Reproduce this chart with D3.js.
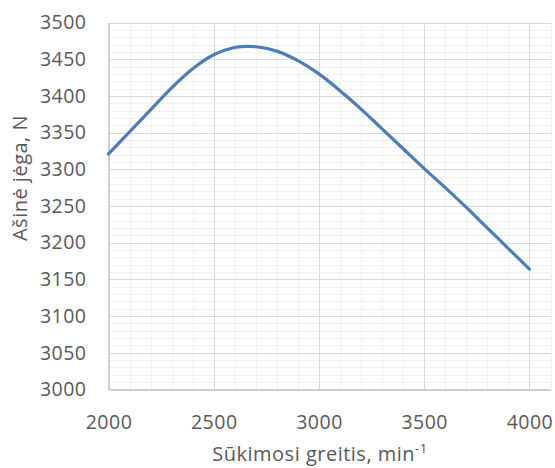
<!DOCTYPE html>
<html>
<head>
<meta charset="utf-8">
<script src="https://cdn.jsdelivr.net/npm/d3@7"></script>
<style>
  html, body { margin: 0; padding: 0; background: #fff; }
  svg { display: block; font-family: "Open Sans", "Noto Sans", sans-serif; }
</style>
</head>
<body>
<svg id="chart" width="555" height="468"></svg>
<script>
// Rotational speed (min^-1) and axial force (N)
const speed = [2000, 2100, 2200, 2300, 2400, 2500, 2600, 2700, 2800, 2900, 3000,
               3100, 3200, 3300, 3400, 3500, 3600, 3700, 3800, 3900, 4000];
const force = [3321, 3351, 3381, 3411, 3437, 3456, 3466, 3467, 3461, 3448, 3430,
               3407, 3382, 3355, 3328, 3301, 3275, 3248, 3220, 3192, 3164];

const xTicks = [2000, 2500, 3000, 3500, 4000];
const yTicks = [3000, 3050, 3100, 3150, 3200, 3250, 3300, 3350, 3400, 3450, 3500];
const xDomain = [2000, 4100];
const yDomain = [3000, 3500];
const xTitle = "Sūkimosi greitis, min";
const xTitleSup = "-1";
const yTitle = "Ašinė jėga, N";

const svg = d3.select("#chart");
const plot = { left: 108.5, right: 550.5, top: 22.5, bottom: 389.5 };

const x = d3.scaleLinear().domain(xDomain).range([plot.left, plot.right]);
const y = d3.scaleLinear().domain(yDomain).range([plot.bottom, plot.top]);

const textColor = "#595959";

// minor gridlines
const xMinor = d3.range(xDomain[0], xDomain[1] + 1, 100).filter(v => v % 500 !== 0);
const yMinor = d3.range(yDomain[0], yDomain[1] + 1, 10).filter(v => v % 50 !== 0);

const grid = svg.append("g").attr("shape-rendering", "crispEdges");
grid.selectAll("line.xmin").data(xMinor).join("line")
  .attr("x1", d => Math.round(x(d)) + 0.5).attr("x2", d => Math.round(x(d)) + 0.5)
  .attr("y1", plot.top).attr("y2", plot.bottom)
  .attr("stroke", "#f0f0f0").attr("stroke-width", 1.3);
grid.selectAll("line.ymin").data(yMinor).join("line")
  .attr("y1", d => Math.round(y(d)) + 0.5).attr("y2", d => Math.round(y(d)) + 0.5)
  .attr("x1", plot.left).attr("x2", plot.right)
  .attr("stroke", "#f0f0f0").attr("stroke-width", 1.3);

// major gridlines
grid.selectAll("line.xmaj").data(xTicks.slice(1)).join("line")
  .attr("x1", d => Math.round(x(d)) + 0.5).attr("x2", d => Math.round(x(d)) + 0.5)
  .attr("y1", plot.top).attr("y2", plot.bottom)
  .attr("stroke", "#d9d9d9").attr("stroke-width", 1.3);
grid.selectAll("line.ymaj").data(yTicks.slice(1)).join("line")
  .attr("y1", d => Math.round(y(d)) + 0.5).attr("y2", d => Math.round(y(d)) + 0.5)
  .attr("x1", plot.left).attr("x2", plot.right)
  .attr("stroke", "#d9d9d9").attr("stroke-width", 1.3);

// axes
const xAxis = svg.append("g")
  .attr("transform", `translate(0,${plot.bottom})`)
  .call(d3.axisBottom(x).tickValues(xTicks).tickSize(0).tickPadding(0).tickFormat(d3.format("d")));
xAxis.select(".domain").attr("stroke", "#bfbfbf").attr("stroke-width", 1.5);
xAxis.selectAll("text")
  .attr("dy", null).attr("y", 39)
  .attr("fill", textColor).attr("font-size", 19.5).attr("letter-spacing", 0.5)
  .attr("font-family", "'Open Sans', sans-serif");

const yAxis = svg.append("g")
  .attr("transform", `translate(${plot.left},0)`)
  .call(d3.axisLeft(y).tickValues(yTicks).tickSize(0).tickPadding(22).tickFormat(d3.format("d")));
yAxis.select(".domain").attr("stroke", "#bfbfbf").attr("stroke-width", 1.5);
yAxis.selectAll("text")
  .attr("fill", textColor).attr("font-size", 19.5).attr("letter-spacing", 0.5)
  .attr("font-family", "'Open Sans', sans-serif");

// series line
const line = d3.line()
  .x((d, i) => x(speed[i]))
  .y(d => y(d))
  .curve(d3.curveCatmullRom.alpha(0.5));

svg.append("path")
  .datum(force)
  .attr("d", line)
  .attr("fill", "none")
  .attr("stroke", "#4a7ebb")
  .attr("stroke-width", 3.2)
  .attr("stroke-linecap", "round")
  .attr("stroke-linejoin", "round");

// axis titles
const xt = svg.append("text")
  .attr("x", 320).attr("y", 461)
  .attr("text-anchor", "middle")
  .attr("fill", textColor).attr("font-size", 20).attr("letter-spacing", 0.5);
xt.append("tspan").text(xTitle);
xt.append("tspan").attr("font-size", 13).attr("dy", -8).text(xTitleSup);

svg.append("text")
  .attr("transform", "translate(27,178) rotate(-90)")
  .attr("text-anchor", "middle")
  .attr("fill", textColor).attr("font-size", 20).attr("letter-spacing", 0.5)
  .text(yTitle);
</script>
</body>
</html>
